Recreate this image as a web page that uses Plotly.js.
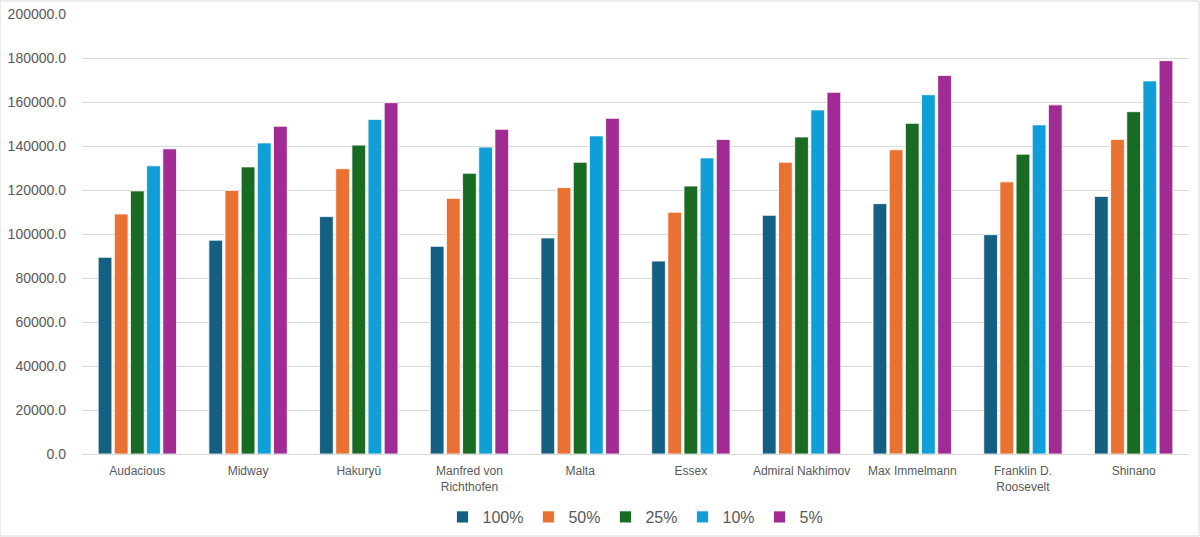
<!DOCTYPE html>
<html>
<head>
<meta charset="utf-8">
<script src="https://cdn.plot.ly/plotly-3.0.1.min.js"></script>
<style>
  html, body { margin: 0; padding: 0; background: #fff; }
  #chart { width: 1200px; height: 537px; }
</style>
</head>
<body>
<div id="chart"></div>
<script>
// ship names (x axis categories)
var ships = ["Audacious", "Midway", "Hakuryū", "Manfred von<br>Richthofen", "Malta",
             "Essex", "Admiral Nakhimov", "Max Immelmann", "Franklin D.<br>Roosevelt", "Shinano"];

// values per series
var v100 = [89400, 97200, 107900, 94400, 98200, 87700, 108500, 113800, 99700, 117100];
var v50  = [109100, 119800, 129700, 116200, 121100, 109900, 132600, 138300, 123700, 143000];
var v25  = [119600, 130500, 140400, 127600, 132600, 121800, 144100, 150300, 136300, 155600];
var v10  = [131000, 141400, 152100, 139500, 144600, 134600, 156400, 163300, 149600, 169600];
var v5   = [138700, 149000, 159700, 147600, 152600, 143000, 164400, 172100, 158700, 178800];

var seriesNames = ["100%", "50%", "25%", "10%", "5%"];
var seriesVals = [v100, v50, v25, v10, v5];
var seriesColors = ["#156082", "#E97132", "#196B24", "#0F9ED5", "#A02B93"];

var data = [];
for (var i = 0; i < seriesNames.length; i++) {
  data.push({
    x: ships,
    y: seriesVals[i],
    name: seriesNames[i],
    type: "bar",
    marker: { color: seriesColors[i], line: { color: "#ffffff", width: 0.8 } },
    hoverinfo: "y+name"
  });
}

var plotW = 1200 - 82 - 11;

var layout = {
  width: 1200,
  height: 537,
  barmode: "group",
  bargap: 0.27,
  bargroupgap: 0.15,
  plot_bgcolor: "#ffffff",
  paper_bgcolor: "#ffffff",
  font: { family: "Liberation Sans, Arial, sans-serif", color: "#595959", size: 12 },
  margin: { l: 82, r: 11, t: 14, b: 83, autoexpand: false },
  xaxis: {
    showgrid: false,
    showline: true,
    linecolor: "#d9d9d9",
    linewidth: 1,
    ticks: "",
    ticklabelstandoff: 6,
    tickfont: { size: 12, color: "#595959" },
    automargin: false,
    fixedrange: true
  },
  yaxis: {
    range: [0, 200000],
    dtick: 20000,
    tickformat: ".1f",
    showgrid: true,
    gridcolor: "#d9d9d9",
    gridwidth: 1,
    zeroline: false,
    showline: false,
    ticks: "",
    ticklabelstandoff: 15,
    tickfont: { size: 14, color: "#595959" },
    automargin: false,
    fixedrange: true
  },
  legend: {
    orientation: "h",
    x: 0.5,
    xanchor: "center",
    y: -63 / 440,
    yanchor: "middle",
    bgcolor: "rgba(0,0,0,0)",
    font: { size: 16, color: "#595959" },
    itemwidth: 30,
    traceorder: "normal"
  },
  shapes: [{
    type: "rect",
    xref: "paper", yref: "paper",
    x0: -82 / plotW, x1: 1 + 10 / plotW,
    y0: -82 / 440, y1: 1 + 13 / 440,
    line: { color: "#d9d9d9", width: 1 },
    fillcolor: "rgba(0,0,0,0)",
    layer: "below"
  }]
};

Plotly.newPlot("chart", data, layout, { displayModeBar: false, staticPlot: true });
</script>
</body>
</html>
